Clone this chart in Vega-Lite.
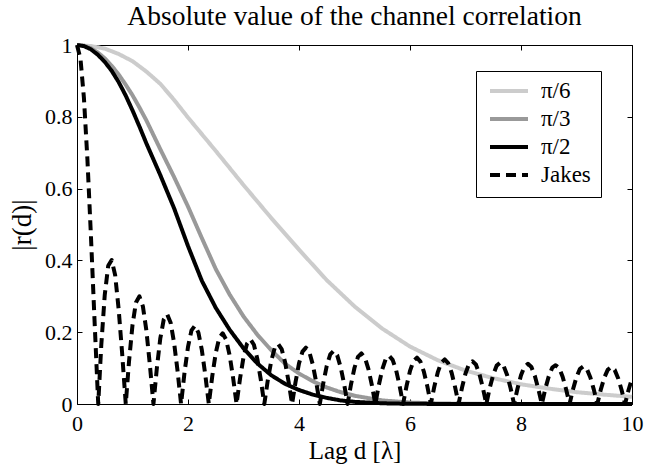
{
"$schema":"https://vega.github.io/schema/vega-lite/v6.json",
"width":555,"height":359,
"autosize":{"type":"none"},
"padding":{"left":77,"top":45,"right":13,"bottom":63},
"background":"white",
"title":{"text":"Absolute value of the channel correlation","font":"Liberation Serif","fontSize":27.5,"fontWeight":"normal","color":"black","offset":4,"anchor":"middle"},
"data":{"values":[
{"s":"π/6","d":0,"r":1},{"s":"π/6","d":0.25,"r":0.997},{"s":"π/6","d":0.5,"r":0.99},{"s":"π/6","d":0.75,"r":0.975},{"s":"π/6","d":1,"r":0.955},{"s":"π/6","d":1.25,"r":0.926},{"s":"π/6","d":1.5,"r":0.892},{"s":"π/6","d":1.75,"r":0.847},{"s":"π/6","d":2,"r":0.798},{"s":"π/6","d":2.5,"r":0.705},{"s":"π/6","d":3,"r":0.61},{"s":"π/6","d":3.5,"r":0.518},{"s":"π/6","d":4,"r":0.43},{"s":"π/6","d":4.5,"r":0.345},{"s":"π/6","d":5,"r":0.272},{"s":"π/6","d":5.5,"r":0.21},{"s":"π/6","d":6,"r":0.16},{"s":"π/6","d":6.5,"r":0.122},{"s":"π/6","d":7,"r":0.093},{"s":"π/6","d":7.5,"r":0.072},{"s":"π/6","d":8,"r":0.055},{"s":"π/6","d":8.5,"r":0.043},{"s":"π/6","d":9,"r":0.033},{"s":"π/6","d":9.5,"r":0.026},{"s":"π/6","d":10,"r":0.02},
{"s":"π/3","d":0,"r":1},{"s":"π/3","d":0.125,"r":0.998},{"s":"π/3","d":0.25,"r":0.991},{"s":"π/3","d":0.375,"r":0.979},{"s":"π/3","d":0.5,"r":0.963},{"s":"π/3","d":0.625,"r":0.942},{"s":"π/3","d":0.75,"r":0.918},{"s":"π/3","d":0.875,"r":0.89},{"s":"π/3","d":1,"r":0.86},{"s":"π/3","d":1.125,"r":0.826},{"s":"π/3","d":1.25,"r":0.79},{"s":"π/3","d":1.5,"r":0.71},{"s":"π/3","d":1.75,"r":0.632},{"s":"π/3","d":2,"r":0.55},{"s":"π/3","d":2.25,"r":0.462},{"s":"π/3","d":2.5,"r":0.376},{"s":"π/3","d":2.75,"r":0.305},{"s":"π/3","d":3,"r":0.244},{"s":"π/3","d":3.25,"r":0.193},{"s":"π/3","d":3.5,"r":0.15},{"s":"π/3","d":3.75,"r":0.112},{"s":"π/3","d":4,"r":0.085},{"s":"π/3","d":4.25,"r":0.063},{"s":"π/3","d":4.5,"r":0.046},{"s":"π/3","d":4.75,"r":0.033},{"s":"π/3","d":5,"r":0.023},{"s":"π/3","d":5.5,"r":0.01},{"s":"π/3","d":6,"r":0.004},{"s":"π/3","d":6.5,"r":0.0015},{"s":"π/3","d":7,"r":0.0005},{"s":"π/3","d":8,"r":0},{"s":"π/3","d":9,"r":0},{"s":"π/3","d":10,"r":0},
{"s":"π/2","d":0,"r":1},{"s":"π/2","d":0.125,"r":0.997},{"s":"π/2","d":0.25,"r":0.988},{"s":"π/2","d":0.375,"r":0.973},{"s":"π/2","d":0.5,"r":0.953},{"s":"π/2","d":0.625,"r":0.928},{"s":"π/2","d":0.75,"r":0.897},{"s":"π/2","d":0.875,"r":0.86},{"s":"π/2","d":1,"r":0.818},{"s":"π/2","d":1.125,"r":0.773},{"s":"π/2","d":1.25,"r":0.726},{"s":"π/2","d":1.5,"r":0.638},{"s":"π/2","d":1.75,"r":0.545},{"s":"π/2","d":2,"r":0.44},{"s":"π/2","d":2.25,"r":0.343},{"s":"π/2","d":2.5,"r":0.268},{"s":"π/2","d":2.75,"r":0.207},{"s":"π/2","d":3,"r":0.155},{"s":"π/2","d":3.25,"r":0.113},{"s":"π/2","d":3.5,"r":0.08},{"s":"π/2","d":3.75,"r":0.056},{"s":"π/2","d":4,"r":0.039},{"s":"π/2","d":4.25,"r":0.026},{"s":"π/2","d":4.5,"r":0.017},{"s":"π/2","d":4.75,"r":0.01},{"s":"π/2","d":5,"r":0.006},{"s":"π/2","d":5.5,"r":0.002},{"s":"π/2","d":6,"r":0.0005},{"s":"π/2","d":7,"r":0},{"s":"π/2","d":8,"r":0},{"s":"π/2","d":9,"r":0},{"s":"π/2","d":10,"r":0},
{"s":"Jakes","d":0,"r":1},{"s":"Jakes","d":0.0625,"r":0.962},{"s":"Jakes","d":0.125,"r":0.852},{"s":"Jakes","d":0.1875,"r":0.682},{"s":"Jakes","d":0.25,"r":0.472},{"s":"Jakes","d":0.3125,"r":0.245},{"s":"Jakes","d":0.375,"r":0.025},{"s":"Jakes","d":0.3827,"r":0},{"s":"Jakes","d":0.4375,"r":0.164},{"s":"Jakes","d":0.5,"r":0.304},{"s":"Jakes","d":0.5625,"r":0.385},{"s":"Jakes","d":0.625,"r":0.401},{"s":"Jakes","d":0.6875,"r":0.359},{"s":"Jakes","d":0.75,"r":0.265},{"s":"Jakes","d":0.8125,"r":0.143},{"s":"Jakes","d":0.875,"r":0.008},{"s":"Jakes","d":0.8786,"r":0},{"s":"Jakes","d":0.9375,"r":0.119},
{"s":"Jakes","d":1,"r":0.22},{"s":"Jakes","d":1.0625,"r":0.283},{"s":"Jakes","d":1.125,"r":0.3},{"s":"Jakes","d":1.1875,"r":0.272},{"s":"Jakes","d":1.25,"r":0.205},{"s":"Jakes","d":1.3125,"r":0.11},{"s":"Jakes","d":1.375,"r":0.004},{"s":"Jakes","d":1.3773,"r":0},{"s":"Jakes","d":1.4375,"r":0.098},
{"s":"Jakes","d":1.5,"r":0.182},{"s":"Jakes","d":1.5625,"r":0.235},{"s":"Jakes","d":1.625,"r":0.25},{"s":"Jakes","d":1.6875,"r":0.226},{"s":"Jakes","d":1.75,"r":0.17},{"s":"Jakes","d":1.8125,"r":0.091},{"s":"Jakes","d":1.875,"r":0},{"s":"Jakes","d":1.9375,"r":0.088},
{"s":"Jakes","d":2,"r":0.159},{"s":"Jakes","d":2.0625,"r":0.205},{"s":"Jakes","d":2.125,"r":0.218},{"s":"Jakes","d":2.1875,"r":0.199},{"s":"Jakes","d":2.25,"r":0.15},{"s":"Jakes","d":2.3125,"r":0.08},{"s":"Jakes","d":2.375,"r":0},{"s":"Jakes","d":2.4375,"r":0.078},
{"s":"Jakes","d":2.5,"r":0.142},{"s":"Jakes","d":2.5625,"r":0.184},{"s":"Jakes","d":2.625,"r":0.197},{"s":"Jakes","d":2.6875,"r":0.179},{"s":"Jakes","d":2.75,"r":0.136},{"s":"Jakes","d":2.8125,"r":0.073},{"s":"Jakes","d":2.875,"r":0},{"s":"Jakes","d":2.9375,"r":0.071},
{"s":"Jakes","d":3,"r":0.13},{"s":"Jakes","d":3.0625,"r":0.168},{"s":"Jakes","d":3.125,"r":0.18},{"s":"Jakes","d":3.1875,"r":0.165},{"s":"Jakes","d":3.25,"r":0.125},{"s":"Jakes","d":3.3125,"r":0.067},{"s":"Jakes","d":3.375,"r":0},{"s":"Jakes","d":3.4375,"r":0.066},
{"s":"Jakes","d":3.5,"r":0.12},{"s":"Jakes","d":3.5625,"r":0.156},{"s":"Jakes","d":3.625,"r":0.167},{"s":"Jakes","d":3.6875,"r":0.153},{"s":"Jakes","d":3.75,"r":0.116},{"s":"Jakes","d":3.8125,"r":0.062},{"s":"Jakes","d":3.875,"r":0},{"s":"Jakes","d":3.9375,"r":0.061},
{"s":"Jakes","d":4,"r":0.113},{"s":"Jakes","d":4.0625,"r":0.146},{"s":"Jakes","d":4.125,"r":0.157},{"s":"Jakes","d":4.1875,"r":0.144},{"s":"Jakes","d":4.25,"r":0.109},{"s":"Jakes","d":4.3125,"r":0.059},{"s":"Jakes","d":4.375,"r":0},{"s":"Jakes","d":4.4375,"r":0.058},
{"s":"Jakes","d":4.5,"r":0.106},{"s":"Jakes","d":4.5625,"r":0.138},{"s":"Jakes","d":4.625,"r":0.148},{"s":"Jakes","d":4.6875,"r":0.136},{"s":"Jakes","d":4.75,"r":0.103},{"s":"Jakes","d":4.8125,"r":0.056},{"s":"Jakes","d":4.875,"r":0},{"s":"Jakes","d":4.9375,"r":0.055},
{"s":"Jakes","d":5,"r":0.101},{"s":"Jakes","d":5.0625,"r":0.131},{"s":"Jakes","d":5.125,"r":0.141},{"s":"Jakes","d":5.1875,"r":0.129},{"s":"Jakes","d":5.25,"r":0.098},{"s":"Jakes","d":5.3125,"r":0.053},{"s":"Jakes","d":5.375,"r":0},{"s":"Jakes","d":5.4375,"r":0.052},
{"s":"Jakes","d":5.5,"r":0.096},{"s":"Jakes","d":5.5625,"r":0.125},{"s":"Jakes","d":5.625,"r":0.134},{"s":"Jakes","d":5.6875,"r":0.123},{"s":"Jakes","d":5.75,"r":0.094},{"s":"Jakes","d":5.8125,"r":0.051},{"s":"Jakes","d":5.875,"r":0},{"s":"Jakes","d":5.9375,"r":0.05},
{"s":"Jakes","d":6,"r":0.092},{"s":"Jakes","d":6.0625,"r":0.12},{"s":"Jakes","d":6.125,"r":0.129},{"s":"Jakes","d":6.1875,"r":0.118},{"s":"Jakes","d":6.25,"r":0.09},{"s":"Jakes","d":6.3125,"r":0.049},{"s":"Jakes","d":6.375,"r":0},{"s":"Jakes","d":6.4375,"r":0.048},
{"s":"Jakes","d":6.5,"r":0.088},{"s":"Jakes","d":6.5625,"r":0.115},{"s":"Jakes","d":6.625,"r":0.124},{"s":"Jakes","d":6.6875,"r":0.114},{"s":"Jakes","d":6.75,"r":0.087},{"s":"Jakes","d":6.8125,"r":0.047},{"s":"Jakes","d":6.875,"r":0},{"s":"Jakes","d":6.9375,"r":0.046},
{"s":"Jakes","d":7,"r":0.085},{"s":"Jakes","d":7.0625,"r":0.111},{"s":"Jakes","d":7.125,"r":0.119},{"s":"Jakes","d":7.1875,"r":0.11},{"s":"Jakes","d":7.25,"r":0.084},{"s":"Jakes","d":7.3125,"r":0.045},{"s":"Jakes","d":7.375,"r":0},{"s":"Jakes","d":7.4375,"r":0.045},
{"s":"Jakes","d":7.5,"r":0.082},{"s":"Jakes","d":7.5625,"r":0.107},{"s":"Jakes","d":7.625,"r":0.115},{"s":"Jakes","d":7.6875,"r":0.106},{"s":"Jakes","d":7.75,"r":0.081},{"s":"Jakes","d":7.8125,"r":0.044},{"s":"Jakes","d":7.875,"r":0},{"s":"Jakes","d":7.9375,"r":0.043},
{"s":"Jakes","d":8,"r":0.08},{"s":"Jakes","d":8.0625,"r":0.104},{"s":"Jakes","d":8.125,"r":0.112},{"s":"Jakes","d":8.1875,"r":0.103},{"s":"Jakes","d":8.25,"r":0.078},{"s":"Jakes","d":8.3125,"r":0.042},{"s":"Jakes","d":8.375,"r":0},{"s":"Jakes","d":8.4375,"r":0.042},
{"s":"Jakes","d":8.5,"r":0.077},{"s":"Jakes","d":8.5625,"r":0.101},{"s":"Jakes","d":8.625,"r":0.108},{"s":"Jakes","d":8.6875,"r":0.1},{"s":"Jakes","d":8.75,"r":0.076},{"s":"Jakes","d":8.8125,"r":0.041},{"s":"Jakes","d":8.875,"r":0},{"s":"Jakes","d":8.9375,"r":0.041},
{"s":"Jakes","d":9,"r":0.075},{"s":"Jakes","d":9.0625,"r":0.098},{"s":"Jakes","d":9.125,"r":0.105},{"s":"Jakes","d":9.1875,"r":0.097},{"s":"Jakes","d":9.25,"r":0.074},{"s":"Jakes","d":9.3125,"r":0.04},{"s":"Jakes","d":9.375,"r":0},{"s":"Jakes","d":9.4375,"r":0.04},
{"s":"Jakes","d":9.5,"r":0.073},{"s":"Jakes","d":9.5625,"r":0.095},{"s":"Jakes","d":9.625,"r":0.103},{"s":"Jakes","d":9.6875,"r":0.095},{"s":"Jakes","d":9.75,"r":0.072},{"s":"Jakes","d":9.8125,"r":0.039},{"s":"Jakes","d":9.875,"r":0},{"s":"Jakes","d":9.9375,"r":0.039},
{"s":"Jakes","d":10,"r":0.071}
]},
"layer":[
{"mark":{"type":"line","strokeCap":"butt","strokeJoin":"round"},
 "encoding":{
  "x":{"field":"d","type":"quantitative","scale":{"domain":[0,10],"nice":false},
       "axis":{"orient":"bottom","values":[0,2,4,6,8,10],"tickSize":-5,"tickColor":"black","domain":false,"grid":false,"labelFont":"Liberation Serif","labelFontSize":22,"labelColor":"black","labelPadding":14,"labelFlush":false,"title":"Lag d [λ]","titleFont":"Liberation Serif","titleFontSize":25,"titleFontWeight":"normal","titleColor":"black","titleBaseline":"alphabetic","titleY":54}},
  "y":{"field":"r","type":"quantitative","scale":{"domain":[0,1],"nice":false},
       "axis":{"orient":"left","values":[0,0.2,0.4,0.6,0.8,1],"format":"~g","tickSize":-5,"tickColor":"black","domain":false,"grid":false,"labelFont":"Liberation Serif","labelFontSize":22,"labelColor":"black","labelPadding":10,"labelFlush":false,"title":"|r(d)|","titleFont":"Liberation Serif","titleFontSize":27,"titleFontWeight":"normal","titleColor":"black","titleBaseline":"alphabetic","titleX":-47}},
  "color":{"field":"s","type":"nominal","scale":{"domain":["π/6","π/3","π/2","Jakes"],"range":["#cccccc","#999999","#000000","#000000"]},"legend":{"title":null}},
  "strokeDash":{"field":"s","type":"nominal","scale":{"domain":["π/6","π/3","π/2","Jakes"],"range":[[1,0],[1,0],[1,0],[10,6]]},"legend":{"title":null}},
  "strokeWidth":{"field":"s","type":"nominal","scale":{"domain":["π/6","π/3","π/2","Jakes"],"range":[4,4,4,3]},"legend":null}
 }},
{"mark":{"type":"point","opacity":0},
 "encoding":{
  "x":{"field":"d","type":"quantitative","axis":{"orient":"top","values":[0,2,4,6,8,10],"tickSize":-5,"tickColor":"black","domain":false,"grid":false,"labels":false,"title":null}},
  "y":{"field":"r","type":"quantitative","axis":{"orient":"right","values":[0,0.2,0.4,0.6,0.8,1],"tickSize":-5,"tickColor":"black","domain":false,"grid":false,"labels":false,"title":null}}
 }}
],
"resolve":{"axis":{"x":"independent","y":"independent"}},
"config":{
 "font":"Liberation Serif",
 "view":{"stroke":"black","strokeWidth":1,"fill":"white"},
 "legend":{"orient":"none","legendX":399,"legendY":26,"strokeColor":"black","fillColor":"white","padding":10,"symbolOffset":2,"symbolType":"stroke","symbolSize":1444,"symbolStrokeWidth":4,"labelFont":"Liberation Serif","labelFontSize":23,"labelColor":"black","labelOffset":11,"rowPadding":5,"clipHeight":20,"labelLimit":200}
}
}
